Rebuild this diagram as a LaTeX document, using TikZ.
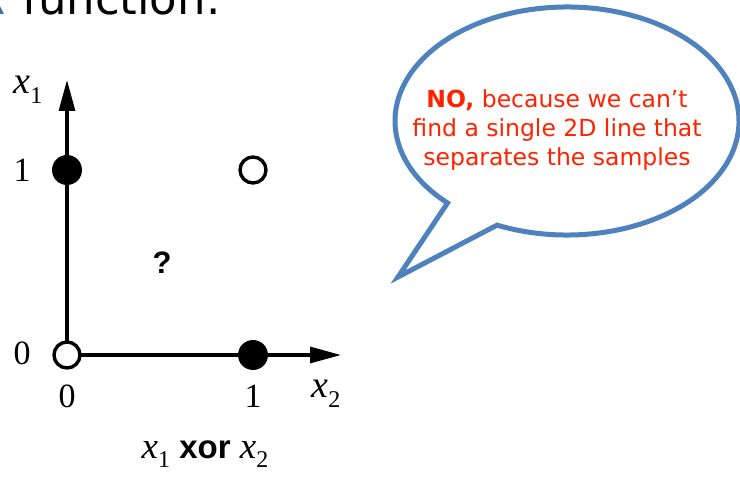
\documentclass[tikz,border=0pt]{standalone}
\usepackage{fontspec}
\setmainfont{Liberation Serif}
\newfontfamily\bubblefont{DejaVu Sans}
\newfontfamily\headfont{DejaVu Sans}
\newfontfamily\arialfont{Liberation Sans}
\usetikzlibrary{arrows.meta,calc}
\definecolor{bubbleblue}{RGB}{79,129,189}
\definecolor{bubblered}{RGB}{255,34,0}
\definecolor{headblue}{RGB}{60,110,170}
\begin{document}
\begin{tikzpicture}[x=1pt,y=1pt,
  axis/.style={line width=3.1pt,-{Triangle[length=31pt,width=16pt]}},
  filleddot/.style={circle,fill=black,inner sep=0pt,minimum size=30pt},
  opendot/.style={circle,draw=black,fill=white,line width=3.4pt,inner sep=0pt,minimum size=26pt},
  serifnum/.style={font=\fontsize{34}{34}\selectfont,inner sep=0pt},
  bubbletext/.style={font=\bubblefont\fontsize{23.5}{29}\selectfont,text=bubblered,align=center,inner sep=0pt}
]
\useasboundingbox (0,0) rectangle (740,488);
\clip (0,0) rectangle (740,488);
% heading fragment
\node[anchor=base east,inner sep=0pt,font=\headfont\fontsize{45}{45}\selectfont,text=headblue] (headx) at (6,473) {XOR};
\node[anchor=base west,inner sep=0pt,font=\headfont\fontsize{45}{45}\selectfont] (head) at (22,473) {function.};
% axes
\coordinate (O) at (67,133);
\coordinate (ytip) at (67,408);
\coordinate (xtip) at (341,133);
\draw[axis] (O) -- (ytip);
\draw[axis] (O) -- (xtip);
% points
\node[opendot] (p00) at (O) {};
\node[filleddot] (p01) at (67,318) {};
\node[filleddot] (p10) at (253,133) {};
\node[opendot] (p11) at (253,318) {};
\node[inner sep=0pt,font=\arialfont\bfseries\fontsize{31}{31}\selectfont] (q) at (162,225) {?};
% labels
\node[serifnum] (lx1) at (28,398) {\fontsize{38}{38}\selectfont\itshape x\raisebox{-0.25em}{\upshape\fontsize{24}{24}\selectfont 1}};
\node[serifnum] (ly1) at (22,318) {1};
\node[serifnum] (ly0) at (22,135) {0};
\node[serifnum] (lx0) at (67,92) {0};
\node[serifnum] (lxa) at (253,92) {1};
\node[serifnum] (lx2) at (326,94) {\fontsize{38}{38}\selectfont\itshape x\raisebox{-0.25em}{\upshape\fontsize{24}{24}\selectfont 2}};
% caption
\node[inner sep=0pt,font=\fontsize{37}{37}\selectfont] (cap) at (205,34) {\itshape x\raisebox{-0.25em}{\upshape\fontsize{24}{24}\selectfont 1}\ {\upshape\arialfont\bfseries\fontsize{33}{33}\selectfont xor}\ x\raisebox{-0.25em}{\upshape\fontsize{24}{24}\selectfont 2}};
% speech bubble
\coordinate (bc) at (567,367);
\coordinate (tip) at (398,211);
\draw[bubbleblue,line width=5pt,fill=white,line join=miter]
  ($(bc)+(246:172 and 114)$) arc[start angle=246,end angle=586,x radius=172,y radius=114]
  -- (tip) -- cycle;
\node[bubbletext] (btext) at (557,358) {{\bfseries NO,} because we can’t\\find a single 2D line that\\separates the samples};
\end{tikzpicture}
\end{document}
